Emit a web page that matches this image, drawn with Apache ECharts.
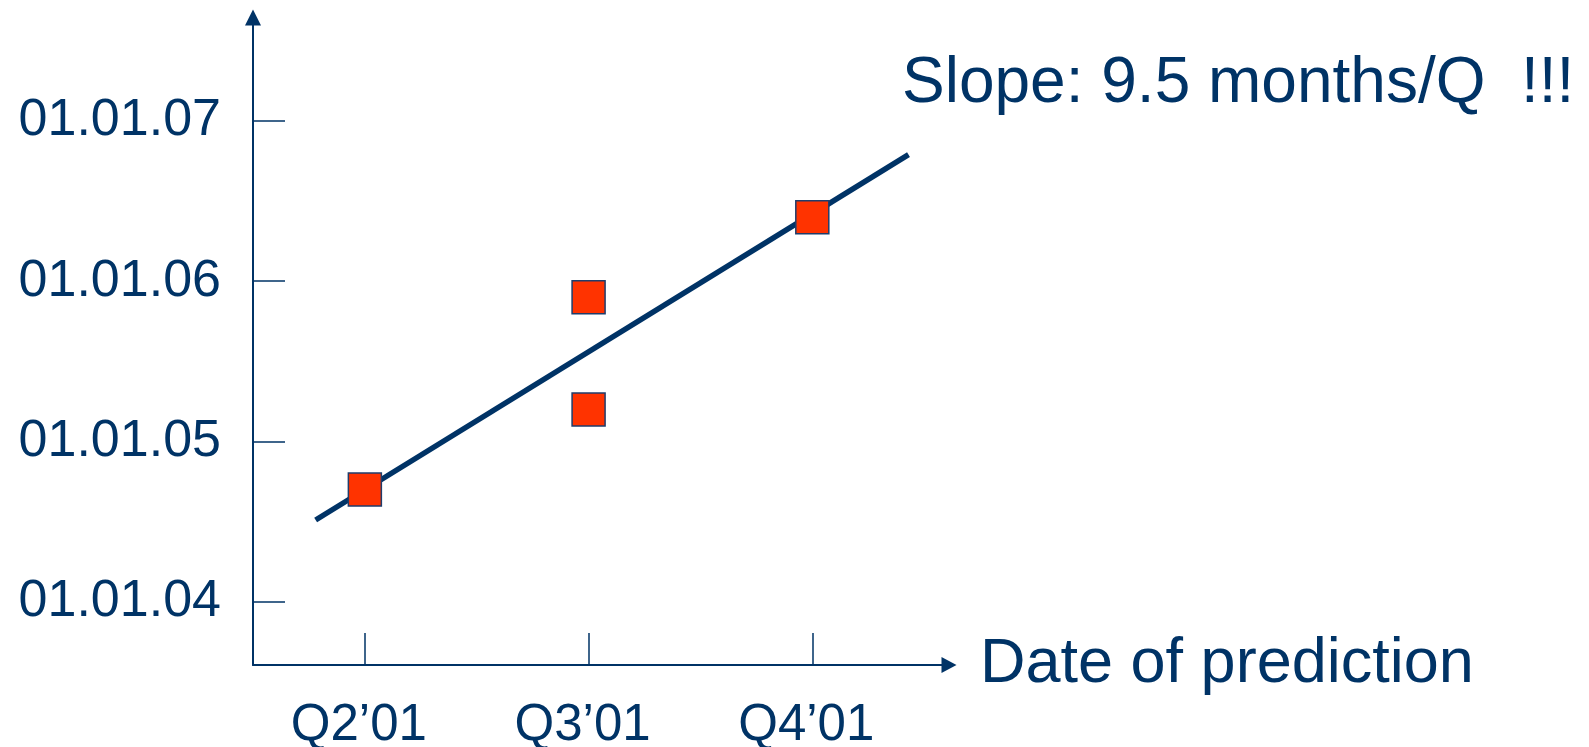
<!DOCTYPE html>
<html>
<head>
<meta charset="utf-8">
<title>Date of prediction</title>
<script src="https://cdn.jsdelivr.net/npm/echarts@6/dist/echarts.min.js"></script>
<style>
  html, body { margin: 0; padding: 0; background: #ffffff; }
  #chart { width: 1589px; height: 747px; }
</style>
</head>
<body>
<div id="chart"></div>
<script>
// Quarters in which a prediction was made (x positions are quarter indexes)
const quarters = ['Q2\u201901', 'Q3\u201901', 'Q4\u201901'];
const quarterTicks = [0, 1, 2];

// Each prediction: quarter index and predicted date (fractional year)
const predictionQuarter = [0, 1, 1, 2];
const predictedDate = [2004.70, 2005.90, 2005.20, 2006.40];

// Trend line endpoints [quarter index, year]
const trendStart = [-0.22, 2004.51];
const trendEnd = [2.43, 2006.79];

// Y-axis ticks (1 January of each year) and their labels
const yearTicks = [2004, 2005, 2006, 2007];
const yearLabels = ['01.01.04', '01.01.05', '01.01.06', '01.01.07'];

const slopeText = 'Slope: 9.5 months/Q  !!!';
const xAxisTitle = 'Date of prediction';

const NAVY = '#003366';
const FONT = '"Liberation Sans", Arial, sans-serif';

const chart = echarts.init(document.getElementById('chart'), null, { renderer: 'canvas' });

chart.setOption({
  animation: false,
  backgroundColor: '#ffffff',
  grid: { left: 253, right: 640, top: 17.5, bottom: 82, containLabel: false, outerBoundsMode: 'none' },
  xAxis: {
    type: 'value',
    min: -0.5,
    max: 2.611,
    name: xAxisTitle,
    nameLocation: 'end',
    nameGap: 31,
    nameTextStyle: {
      color: NAVY, fontSize: 63, fontFamily: FONT,
      verticalAlign: 'middle', padding: [22, 0, 0, 0]
    },
    splitLine: { show: false },
    axisLine: {
      show: true,
      onZero: false,
      symbol: ['none', 'triangle'],
      symbolSize: [16, 15],
      lineStyle: { color: NAVY, width: 2 }
    },
    axisTick: {
      show: true,
      inside: true,
      length: 32,
      customValues: quarterTicks,
      lineStyle: { color: NAVY, width: 1.5 }
    },
    axisLabel: {
      show: true,
      customValues: quarterTicks,
      margin: 35,
      padding: [0, 12, 0, 0],
      color: NAVY,
      fontSize: 51,
      fontFamily: FONT,
      formatter: function (v) { return quarters[Math.round(v)] || ''; }
    }
  },
  yAxis: {
    type: 'value',
    min: 2003.605,
    max: 2007.646,
    splitLine: { show: false },
    axisLine: {
      show: true,
      onZero: false,
      symbol: ['none', 'triangle'],
      symbolSize: [16, 16],
      lineStyle: { color: NAVY, width: 2 }
    },
    axisTick: {
      show: true,
      inside: true,
      length: 32,
      customValues: yearTicks,
      lineStyle: { color: NAVY, width: 1.5 }
    },
    axisLabel: {
      show: true,
      customValues: yearTicks,
      margin: 32,
      color: NAVY,
      fontSize: 52,
      fontFamily: FONT,
      formatter: function (v) {
        const i = yearTicks.indexOf(Math.round(v));
        return i >= 0 ? yearLabels[i] : '';
      }
    }
  },
  graphic: [{
    type: 'text',
    left: 902,
    top: 52,
    style: {
      text: slopeText,
      fill: NAVY,
      font: '64px ' + FONT
    }
  }],
  series: [
    {
      name: 'trend',
      type: 'line',
      data: [trendStart, trendEnd],
      showSymbol: false,
      silent: true,
      z: 2,
      lineStyle: { color: NAVY, width: 5.5, cap: 'butt' }
    },
    {
      name: 'predictions',
      type: 'scatter',
      data: predictionQuarter.map(function (q, i) { return [q, predictedDate[i]]; }),
      symbol: 'rect',
      symbolSize: 33,
      z: 3,
      itemStyle: { color: '#FF3300', borderColor: '#1F3D6B', borderWidth: 1.5, opacity: 1 }
    }
  ]
});
</script>
</body>
</html>
